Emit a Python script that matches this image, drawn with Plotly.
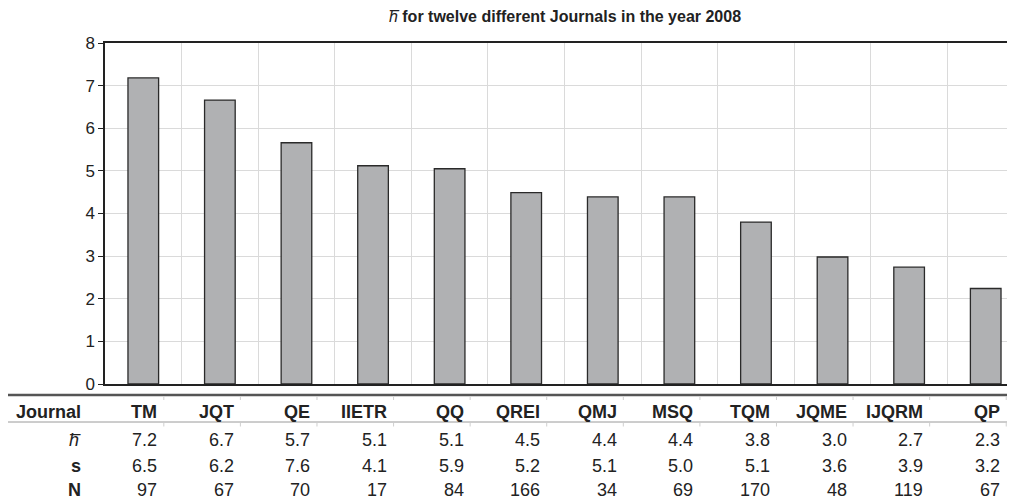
import plotly.graph_objects as go

journals = ["TM", "JQT", "QE", "IIETR", "QQ", "QREI", "QMJ", "MSQ", "TQM", "JQME", "IJQRM", "QP"]
h_bar_values = [7.18, 6.66, 5.66, 5.12, 5.05, 4.49, 4.39, 4.39, 3.80, 2.98, 2.74, 2.24]
h_table = ["7.2", "6.7", "5.7", "5.1", "5.1", "4.5", "4.4", "4.4", "3.8", "3.0", "2.7", "2.3"]
s_table = ["6.5", "6.2", "7.6", "4.1", "5.9", "5.2", "5.1", "5.0", "5.1", "3.6", "3.9", "3.2"]
n_table = ["97", "67", "70", "17", "84", "166", "34", "69", "170", "48", "119", "67"]
row_labels = ["<b>Journal</b>", "<i>h\u0305</i>", "<b>s</b>", "<b>N</b>"]
y_ticks = [0, 1, 2, 3, 4, 5, 6, 7, 8]

FONT = "Liberation Sans, Arial, sans-serif"

# the page body has an 8px margin; work in reference pixels and subtract it
O = 8
W, H = 1015 - O, 502 - O
PLOT_L, PLOT_R, PLOT_T, PLOT_B = 105 - O, 1015 - O, 43 - O, 384 - O
ph = PLOT_B - PLOT_T
pw = PLOT_R - PLOT_L

def py(yref):
    return (PLOT_B - (yref - O)) / ph

def px(xref):
    return ((xref - O) - PLOT_L) / pw

fig = go.Figure()
fig.add_trace(go.Bar(
    x=journals, y=h_bar_values, width=0.4,
    marker=dict(color="#b0b1b3", line=dict(color="#2a2a2a", width=1.3)),
    showlegend=False, hoverinfo="skip",
))

fig.update_layout(
    width=W, height=H,
    margin=dict(l=PLOT_L, r=W - PLOT_R, t=PLOT_T, b=H - PLOT_B, pad=0),
    paper_bgcolor="white", plot_bgcolor="white",
    font=dict(family=FONT, color="#222222"),
    title=dict(
        text="<i>h\u0305</i> <b>for twelve different Journals in the year 2008</b>",
        x=(565 - O) / W, xanchor="center", y=1 - (16 - O) / H, yanchor="middle",
        font=dict(size=16, family=FONT, color="#222222"),
    ),
)

fig.update_xaxes(
    type="category", range=[-0.5, 11.5 - 9 / 76.6],
    showticklabels=False, ticks="", tickson="boundaries",
    showgrid=True, gridcolor="#dadada", gridwidth=1,
    showline=True, linecolor="#222222", linewidth=1.5, mirror=True,
    zeroline=False, fixedrange=True,
)
fig.update_yaxes(
    range=[0, 8], tickvals=y_ticks, ticks="outside", ticklen=5, tickcolor="#222222",
    tickfont=dict(size=17, family=FONT, color="#222222"),
    showgrid=True, gridcolor="#dadada", gridwidth=1,
    showline=True, linecolor="#222222", linewidth=1.5,
    zeroline=False, fixedrange=True,
)

# table rules
fig.add_shape(type="line", xref="paper", yref="paper", x0=px(8), x1=1.0, y0=py(395), y1=py(395),
              line=dict(color="#555555", width=2.5))
fig.add_shape(type="line", xref="paper", yref="paper", x0=px(8), x1=1.0, y0=py(422), y1=py(422),
              line=dict(color="#9a9a9a", width=1))
# faint column separators on the table rules
for i in range(-1, len(journals)):
    xs = i + 0.268
    for y0, y1 in [(396.5, 400), (423, 426.5)]:
        fig.add_shape(type="line", xref="x", yref="paper", x0=xs, x1=xs,
                      y0=py(y0), y1=py(y1), line=dict(color="#cfcfcf", width=1))

row_y = [412, 440, 465.5, 489.5]
for lab, yy in zip(row_labels, row_y):
    fig.add_annotation(text=lab, xref="paper", yref="paper", x=px(83), y=py(yy),
                       xanchor="right", yanchor="middle", showarrow=False,
                       font=dict(size=18, family=FONT, color="#222222"))

rows = [[f"<b>{j}</b>" for j in journals], h_table, s_table, n_table]
for row, yy in zip(rows, row_y):
    for i, val in enumerate(row):
        fig.add_annotation(text=val, xref="x", yref="paper", x=i, y=py(yy),
                           xanchor="right", yanchor="middle", showarrow=False, xshift=16,
                           font=dict(size=18, family=FONT, color="#222222"))

fig.write_html("out.html")
